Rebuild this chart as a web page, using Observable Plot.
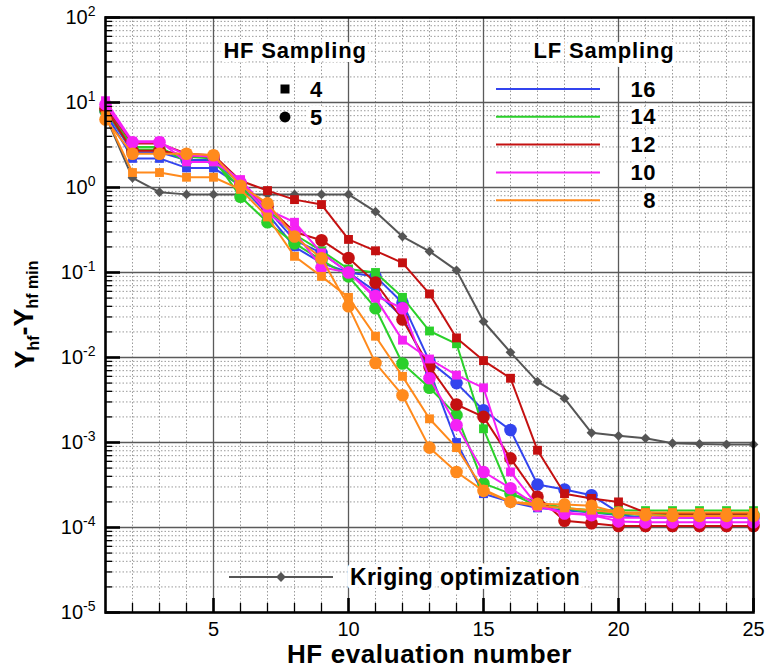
<!DOCTYPE html>
<html><head><meta charset="utf-8">
<script src="https://cdn.jsdelivr.net/npm/d3@7"></script>
<script src="https://cdn.jsdelivr.net/npm/@observablehq/plot@0.6"></script>
<style>
body{margin:0;background:#fff;}
#chart{width:769px;height:669px;}
svg{font-family:"Liberation Sans",Arial,Helvetica,sans-serif;}
</style></head><body><div id="chart"></div>
<script>
// ---- data ----
const evals = [1,2,3,4,5,6,7,8,9,10,11,12,13,14,15,16,17,18,19,20,21,22,23,24,25];
const lf16_hf4 = [7.5,2.2,2.2,1.7,1.7,1.05,0.49,0.2,0.13,0.1,0.06,0.03,0.007,0.001,0.00025,0.0002,0.00017,0.00016,0.00015,0.00014,0.00013,0.00013,0.00013,0.00013,0.00013];
const lf16_hf5 = [8,2.6,2.6,2.1,2.1,1.1,0.55,0.24,0.17,0.1,0.09,0.044,0.009,0.005,0.0024,0.0014,0.00032,0.00028,0.00024,0.00015,0.00014,0.000135,0.00013,0.00013,0.00013];
const lf14_hf4 = [8.5,3.0,3.0,2.0,2.0,1.0,0.55,0.28,0.18,0.11,0.1,0.051,0.0205,0.0145,0.00145,0.00025,0.00018,0.00017,0.00016,0.00016,0.000158,0.000158,0.000158,0.000158,0.000158];
const lf14_hf5 = [8,2.8,2.8,2.3,2.2,0.78,0.39,0.22,0.14,0.09,0.038,0.0085,0.0044,0.0021,0.00033,0.00025,0.0002,0.00017,0.00015,0.000145,0.00014,0.00014,0.00014,0.00014,0.00014];
const lf12_hf4 = [9,3.3,3.3,2.5,2.4,1.2,0.92,0.72,0.63,0.245,0.18,0.13,0.056,0.017,0.0092,0.0057,0.00081,0.00025,0.00022,0.0002,0.00015,0.000145,0.000145,0.000145,0.000145];
const lf12_hf5 = [8.5,2.7,2.7,2.4,2.3,1.1,0.6,0.3,0.24,0.148,0.076,0.028,0.0078,0.0028,0.002,0.00065,0.00023,0.00012,0.000112,0.000104,0.000104,0.000104,0.000104,0.000104,0.000104];
const lf10_hf4 = [10.5,3.5,3.5,2.0,2.0,1.24,0.55,0.39,0.17,0.1,0.05,0.016,0.0096,0.0062,0.0044,0.00045,0.00018,0.00015,0.00014,0.00013,0.00013,0.00013,0.00013,0.00013,0.00013];
const lf10_hf5 = [9.5,3.4,3.4,2.4,2.3,1.15,0.5,0.3,0.115,0.1,0.053,0.038,0.0057,0.0016,0.00045,0.00029,0.00018,0.000146,0.00014,0.000118,0.000115,0.000115,0.000115,0.000115,0.000115];
const lf8_hf4 = [7,1.5,1.5,1.32,1.32,0.95,0.45,0.155,0.09,0.051,0.0178,0.006,0.0019,0.00087,0.00028,0.0002,0.00018,0.00017,0.00016,0.00015,0.00015,0.00015,0.00015,0.00015,0.00015];
const lf8_hf5 = [6.3,2.5,2.5,2.5,2.4,1.05,0.65,0.265,0.147,0.04,0.0086,0.0036,0.00087,0.00045,0.00027,0.0002,0.00019,0.000187,0.00018,0.00015,0.00014,0.000137,0.000137,0.000137,0.000137];
const kriging = [7,1.3,0.88,0.83,0.83,0.83,0.83,0.83,0.83,0.83,0.52,0.265,0.177,0.106,0.0265,0.0115,0.0052,0.0033,0.0013,0.0012,0.00112,0.00098,0.00096,0.00095,0.00095];

const lfLevels = [16,14,12,10,8];
const lfColors = ["#3344ee","#2ad02a","#c41010","#f521f5","#ff8a1c"];
const hfLevels = [4,5];
const hfSymbols = ["square","circle"];
const xTicks = [5,10,15,20,25];
const yTicks = [1e-5,1e-4,1e-3,1e-2,1e-1,1,10,100];
const minorMult = [2,3,4,5,6,7,8,9];
const hfTitle = "HF Sampling";
const lfTitle = "LF Sampling";
const krigLabel = "Kriging optimization";
const xLabel = "HF evaluation number";

const seriesList = [
  {lf:16,hf:4,v:lf16_hf4},{lf:16,hf:5,v:lf16_hf5},
  {lf:14,hf:4,v:lf14_hf4},{lf:14,hf:5,v:lf14_hf5},
  {lf:12,hf:4,v:lf12_hf4},{lf:12,hf:5,v:lf12_hf5},
  {lf:10,hf:4,v:lf10_hf4},{lf:10,hf:5,v:lf10_hf5},
  {lf:8,hf:4,v:lf8_hf4},{lf:8,hf:5,v:lf8_hf5}
];

// ---- layout ----
const W=769,H=669,mL=105,mR=16,mT=17,mB=57;
const pW=W-mL-mR, pH=H-mT-mB;
const colorOf = lf => lfColors[lfLevels.indexOf(lf)];
const symOf = hf => hfSymbols[hfLevels.indexOf(hf)];
const rOf = hf => hf===4 ? 5 : 6.3;

const decadesInner = yTicks.slice(1,-1);
const minorY = yTicks.slice(0,-1).flatMap(d => minorMult.map(m => m*d));
const minorX = evals.filter(d => !xTicks.includes(d) && d!==1);

const krigRows = kriging.map((v,i)=>({x:evals[i],y:v}));
const seriesMarks = seriesList.flatMap(s => {
  const rows = s.v.map((v,i)=>({x:evals[i],y:v}));
  return [
    Plot.line(rows,{x:"x",y:"y",stroke:colorOf(s.lf),strokeWidth:2}),
    Plot.dot(rows,{x:"x",y:"y",symbol:symOf(s.hf),r:rOf(s.hf),fill:colorOf(s.lf),stroke:"none"})
  ];
});

const chart = Plot.plot({
  width:W,height:H,marginLeft:mL,marginRight:mR,marginTop:mT,marginBottom:mB,
  style:{fontFamily:'"Liberation Sans",Arial,Helvetica,sans-serif',background:"white",overflow:"visible",color:"black"},
  x:{domain:[1,25],label:null},
  y:{type:"log",domain:[1e-5,1e2],label:null},
  marks:[
    Plot.ruleY(minorY,{stroke:"#9a9a9a",strokeDasharray:"1.5,2",strokeWidth:1}),
    Plot.ruleX(minorX,{stroke:"#9a9a9a",strokeDasharray:"1.5,2",strokeWidth:1}),
    Plot.ruleY(decadesInner,{stroke:"#5a5a5a",strokeWidth:1.3}),
    Plot.ruleX(xTicks.slice(0,-1),{stroke:"#5a5a5a",strokeWidth:1.3}),
    Plot.line(krigRows,{x:"x",y:"y",stroke:"#555",strokeWidth:2}),
    Plot.dot(krigRows,{x:"x",y:"y",symbol:"diamond2",r:4.4,fill:"#555",stroke:"none"}),
    ...seriesMarks,
    Plot.tickY(minorY,{y:d=>d,insetRight:pW-7,stroke:"black",strokeWidth:1.3}),
    Plot.tickY(yTicks,{y:d=>d,insetRight:pW-15,stroke:"black",strokeWidth:2.6}),
    Plot.tickX(minorX,{x:d=>d,insetTop:pH-9,stroke:"black",strokeWidth:1.3}),
    Plot.tickX(xTicks,{x:d=>d,insetTop:pH-14,stroke:"black",strokeWidth:2.6}),
    Plot.frame({stroke:"black",strokeWidth:2.6}),
    Plot.axisX({ticks:xTicks,tickSize:0,tickPadding:9,fontSize:20,label:null}),
    Plot.axisY({ticks:yTicks,tickSize:0,tickPadding:10,fontSize:20,label:null,
      tickFormat:d=>"10^"+Math.round(Math.log10(d))}),
    Plot.text([xLabel],{frameAnchor:"bottom",lineAnchor:"middle",dy:42,fontSize:26,fontWeight:"bold",text:d=>d,
      style:"letter-spacing:0.6px"})
  ]
});
document.getElementById("chart").appendChild(chart);

// superscripts on y tick labels
const svg = d3.select(chart);
svg.selectAll('g[aria-label="y-axis tick label"] text').each(function(){
  const t = d3.select(this);
  const s = this.textContent;
  const exp = s.split("^")[1];
  t.text(null);
  t.append("tspan").text("10");
  t.append("tspan").attr("dy","-0.55em").attr("font-size","14px").text(exp);
});
svg.selectAll('[aria-label="text"] text').style("letter-spacing","0.6px");

// y label with subscripts
const yl = svg.append("text")
  .attr("transform",`translate(34,${mT+pH/2}) rotate(-90)`)
  .attr("text-anchor","middle").attr("font-weight","bold").attr("font-size","27px")
  .attr("fill","black");
yl.append("tspan").text("Y");
yl.append("tspan").attr("font-size","16px").attr("dy","0.3em").text("hf");
yl.append("tspan").attr("dy","-0.2em").text("-Y");
yl.append("tspan").attr("font-size","16px").attr("dy","0.3em").text("hf min");

// legends
const lg = svg.append("g").attr("font-weight","bold").attr("fill","black");
function haloText(g,x,y,txt,size,anchor,ls){
  return g.append("text").attr("x",x).attr("y",y).attr("font-size",size+"px")
    .attr("text-anchor",anchor).attr("dominant-baseline","central")
    .attr("letter-spacing",ls||0)
    .attr("stroke","white").attr("stroke-width",8).attr("paint-order","stroke")
    .attr("stroke-linejoin","round").text(txt);
}
haloText(lg,295,50,hfTitle,22,"middle","0.8px");
hfLevels.forEach((hf,i)=>{
  const y = 89 + i*28;
  const sym = d3.symbol(hf===4?d3.symbolSquare:d3.symbolCircle, hf===4 ? 81 : Math.PI*30);
  lg.append("path").attr("d",sym()).attr("transform",`translate(285,${y})`).attr("fill","black");
  haloText(lg,316,y,String(hf),22,"middle");
});
haloText(lg,604,50,lfTitle,22,"middle","0.8px");
lfLevels.forEach((lf,i)=>{
  const y = 89 + i*27.8;
  lg.append("line").attr("x1",496).attr("x2",600).attr("y1",y).attr("y2",y)
    .attr("stroke",colorOf(lf)).attr("stroke-width",2);
  haloText(lg,656,y,String(lf),22,"end","0.5px");
});
lg.append("line").attr("x1",229).attr("x2",333).attr("y1",577).attr("y2",577)
  .attr("stroke","#555").attr("stroke-width",2);
lg.append("path").attr("d",d3.symbol(d3.symbolDiamond2,Math.PI*4.4*4.4)())
  .attr("transform","translate(281,577)").attr("fill","#555");
haloText(lg,350,577,krigLabel,23,"start","0.4px");
</script></body></html>
